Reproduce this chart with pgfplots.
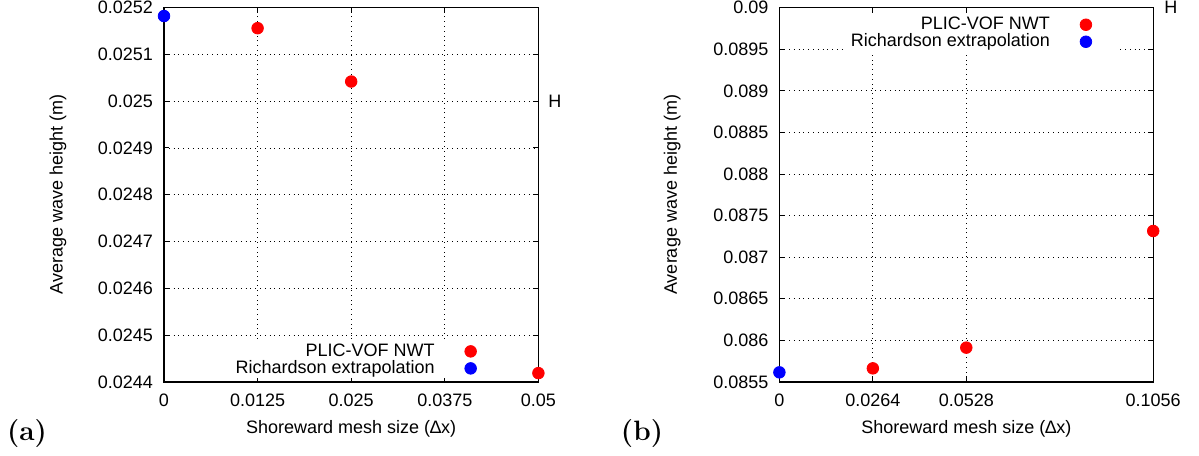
\documentclass[border=0pt]{standalone}
\usepackage{pgfplots}
\pgfplotsset{compat=1.18}
\usepackage{pgfplotstable}
\usepackage{fontspec}
\setsansfont{Liberation Sans}
\newcommand{\myfont}{\sffamily\fontsize{9}{10.5}\selectfont}

\pgfplotstableread{
x y
0.0125 0.025156
0.025 0.025042
0.05 0.024419
}\redA
\pgfplotstableread{
x y
0 0.025182
}\blueA
\pgfplotstableread{
x y
0.0264 0.085664
0.0528 0.085913
0.1056 0.087315
}\redB
\pgfplotstableread{
x y
0 0.085616
}\blueB

\pgfplotsset{
 mystyle/.style={
  scale only axis,
  anchor=south west,
  clip=false,
  scaled x ticks=false,
  scaled y ticks=false,
  tick label style={font=\myfont},
  label style={font=\myfont},
  tick align=inside,
  major tick length=2.5pt,
  grid=major,
  major grid style={black, dotted, line width=0.45pt},
  axis line style={line width=0.6pt},
  tick style={black, line width=0.5pt},
  legend plot pos=right,
  legend cell align=right,
  legend image code/.code={\path[draw=none,fill=none] (0pt,0pt) -- (32pt,0pt); \draw[##1] plot coordinates {(15pt,0pt)};},
  legend style={draw=none, fill=white, font=\myfont, row sep=-1.4pt, inner sep=0pt,
    nodes={inner xsep=3pt, inner ysep=1pt}},
  xlabel={Shoreward mesh size (∆x)},
  ylabel={Average wave height (m)},
  xlabel style={at={(rel axis cs:0.5,-0.124)}, anchor=center},
  xticklabel style={yshift=-2.5pt},
  yticklabel style={xshift=-2pt},
 }
}

\begin{document}
\begin{tikzpicture}
\useasboundingbox (0,0) rectangle (599.5pt,227.5pt);
\begin{axis}[mystyle,
  at={(82pt,36.5pt)}, width=187.2pt, height=187.2pt,
  xmin=0, xmax=0.05, ymin=0.0244, ymax=0.0252,
  xtick={0,0.0125,0.025,0.0375,0.05},
  xticklabels={0,0.0125,0.025,0.0375,0.05},
  ytick={0.0244,0.0245,0.0246,0.0247,0.0248,0.0249,0.025,0.0251,0.0252},
  yticklabels={0.0244,0.0245,0.0246,0.0247,0.0248,0.0249,0.025,0.0251,0.0252},
  ylabel style={at={(rel axis cs:-0.283,0.5)}, anchor=center},
  legend style={at={(rel axis cs:0.911,0.109)}, anchor=north east},
]
\addplot[only marks, mark=*, mark size=2.9pt, color=red] table {\redA};
\addlegendentry{PLIC-VOF NWT}
\addplot[only marks, mark=*, mark size=2.9pt, color=blue] table {\blueA};
\addlegendentry{Richardson extrapolation}
\node[font=\myfont] at (rel axis cs:1.044,0.75) {H};
\end{axis}
\begin{axis}[mystyle,
  at={(389.7pt,36.5pt)}, width=186.9pt, height=187.2pt,
  xmin=0, xmax=0.1056, ymin=0.0855, ymax=0.09,
  xtick={0,0.0264,0.0528,0.1056},
  xticklabels={0,0.0264,0.0528,0.1056},
  ytick={0.0855,0.086,0.0865,0.087,0.0875,0.088,0.0885,0.089,0.0895,0.09},
  yticklabels={0.0855,0.086,0.0865,0.087,0.0875,0.088,0.0885,0.089,0.0895,0.09},
  ylabel style={at={(rel axis cs:-0.287,0.5)}, anchor=center},
  legend style={at={(rel axis cs:0.912,0.881)}, anchor=south east},
]
\addplot[only marks, mark=*, mark size=2.9pt, color=red] table {\redB};
\addlegendentry{PLIC-VOF NWT}
\addplot[only marks, mark=*, mark size=2.9pt, color=blue] table {\blueB};
\addlegendentry{Richardson extrapolation}
\node[font=\myfont] at (rel axis cs:1.047,1.0) {H};
\end{axis}
\node[font=\bfseries\fontsize{14}{16}\selectfont] at (13.5pt,10.5pt) {(a)};
\node[font=\bfseries\fontsize{14}{16}\selectfont] at (321pt,10.5pt) {(b)};
\end{tikzpicture}
\end{document}
